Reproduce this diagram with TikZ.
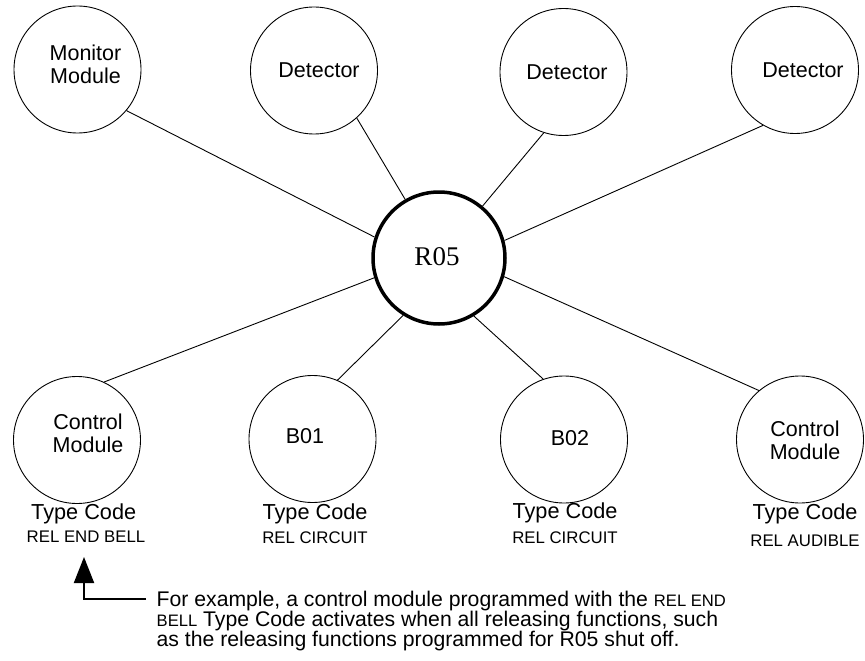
\documentclass[tikz,border=0pt]{standalone}
\usepackage{fontspec}
\setmainfont{Liberation Sans}
\newfontfamily\hubfont{Liberation Serif}
\usetikzlibrary{arrows.meta}
\newcommand{\smc}[1]{{\fontsize{16.6}{19}\selectfont #1}}
\begin{document}
\begin{tikzpicture}[x=1pt,y=-1pt,
  dev/.style={draw, circle, minimum size=127pt, inner sep=0pt, line width=0.9pt},
  hub/.style={draw, circle, minimum size=132pt, inner sep=0pt, line width=3.5pt},
  lbl/.style={inner sep=0pt, align=center, font=\fontsize{21.5}{23}\selectfont},
  tc/.style={inner sep=0pt, anchor=base, font=\fontsize{21.7}{23}\selectfont},
  rel/.style={inner sep=0pt, anchor=base, font=\fontsize{16.8}{19}\selectfont},
  para/.style={inner sep=0pt, anchor=base west, font=\fontsize{21.2}{20}\selectfont},
  link/.style={line width=0.9pt},
  arr/.style={line width=2pt, -{Triangle[length=26pt,width=20pt]}}]
\useasboundingbox (0,0) rectangle (865,661);

% circles
\node[dev] (mon)  at (77.5,69.5) {};
\node[dev] (det1) at (314,70.5) {};
\node[dev] (det2) at (563.5,72) {};
\node[dev] (det3) at (795,70) {};
\node[hub] (r05)  at (439,258) {};
\node[dev] (cm1)  at (77,440) {};
\node[dev] (b01)  at (312.5,439) {};
\node[dev] (b02)  at (564,439.5) {};
\node[dev] (cm2)  at (800,439.5) {};

% labels inside circles
\node[lbl] (monT)  at (85.5,64.5) {Monitor\\Module};
\node[lbl] (det1T) at (319,70) {Detector};
\node[lbl] (det2T) at (567,72) {Detector};
\node[lbl] (det3T) at (803,70) {Detector};
\node[inner sep=0pt, font=\hubfont\fontsize{27}{29}\selectfont] (r05T) at (437,257) {R05};
\node[lbl] (cm1T)  at (88,433.5) {Control\\Module};
\node[lbl] (b01T)  at (305,436) {B01};
\node[lbl] (b02T)  at (570,438) {B02};
\node[lbl] (cm2T)  at (805,440.5) {Control\\Module};

% type codes
\node[tc]  (cm1tc) at (83.7,519) {Type Code};
\node[rel] (cm1rel) at (86,542) {REL END BELL};
\node[tc]  (b01tc) at (315,519.5) {Type Code};
\node[rel] (b01rel) at (315,543) {REL CIRCUIT};
\node[tc]  (b02tc) at (565,518) {Type Code};
\node[rel] (b02rel) at (565,543) {REL CIRCUIT};
\node[tc]  (cm2tc) at (805,519) {Type Code};
\node[rel] (cm2rel) at (805,546) {REL AUDIBLE};

% connectors
\draw[link] (mon.-40.6) -- (r05.162.7);
\draw[link] (det1.-48.6) -- (r05.120);
\draw[link] (det2.-108) -- (r05.50.4);
\draw[link] (det3.-120) -- (r05.15);
\draw[link] (cm1.65) -- (r05.-163);
\draw[link] (b01.67) -- (r05.-122);
\draw[link] (b02.109) -- (r05.-59);
\draw[link] (cm2.130.5) -- (r05.-16);

% note
\node[para] (p1) at (156.5,606) {For example, a control module programmed with the \smc{REL END}};
\node[para] (p2) at (156.5,626.5) {\smc{BELL} Type Code activates when all releasing functions, such};
\node[para] (p3) at (156.5,646.5) {as the releasing functions programmed for R05 shut off.};
\coordinate (nstart) at (146,599);
\coordinate (ntip) at (84,557);
\draw[arr] (nstart) -| (ntip);
\end{tikzpicture}
\end{document}
